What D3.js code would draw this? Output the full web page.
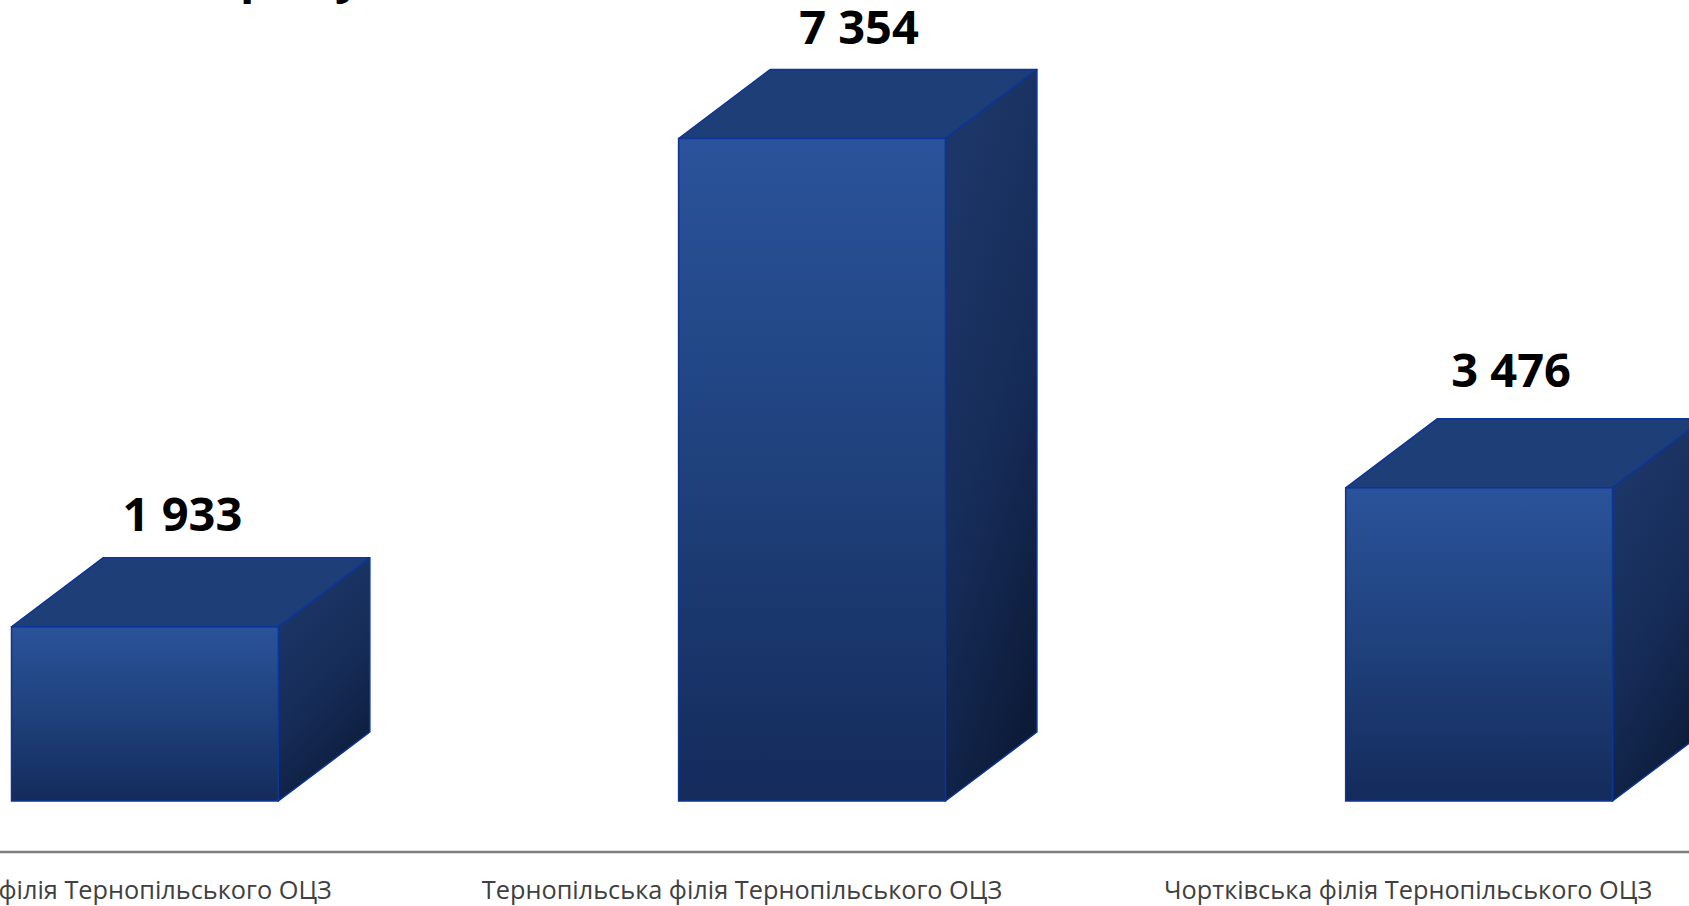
<!DOCTYPE html>
<html><head><meta charset="utf-8">
<script src="https://cdn.jsdelivr.net/npm/d3@7"></script>
<style>html,body{margin:0;padding:0;background:#fff;overflow:hidden}svg{display:block}</style>
</head><body><div id="c"></div>
<script>
const categories = ["Кременецька філія Тернопільського ОЦЗ","Тернопільська філія Тернопільського ОЦЗ","Чортківська філія Тернопільського ОЦЗ"];
const values = [1933, 7354, 3476];
const valueLabels = ["1 933","7 354","3 476"];
const labelShiftX = [37.5, 47, 32];
const labelGapY = [26.5, 26, 32];
const tickShiftX = [-66, -70, -71];
const titleFragments = [{t:"р",x:240},{t:"у",x:335}];

const W=1689,H=906,baseY=801,depthX=91.5,depthY=69,axisY=852;
const svg=d3.select("#c").append("svg").attr("width",W).attr("height",H);
const defs=svg.append("defs");
const grad=(id,x1,y1,x2,y2,stops)=>{const g=defs.append("linearGradient").attr("id",id).attr("x1",x1).attr("y1",y1).attr("x2",x2).attr("y2",y2);
 stops.forEach(s=>g.append("stop").attr("offset",s[0]).attr("stop-color",s[1]));};
grad("front",0,0,0,1,[[0,"#2a539b"],[0.45,"#20437f"],[1,"#142b5b"]]);
grad("side",0.25,0.1,0.6,1,[[0,"#1c3667"],[0.5,"#162c58"],[1,"#0c1b38"]]);

const x=d3.scaleBand().domain(categories).range([11.5,1612.5]).paddingInner(0.6).paddingOuter(0);
const y=d3.scaleLinear().domain([0,7354]).range([baseY,138.5]);
const stroke="#0c3599";

const g=svg.selectAll("g.bar").data(values).join("g").attr("class","bar");
const cat=(i)=>categories[i];
const pts=a=>a.map(p=>p.join(",")).join(" ");
g.append("polygon").attr("points",(d,i)=>{const l=x(cat(i)),r=l+x.bandwidth(),t=y(d);return pts([[l,t],[l+depthX,t-depthY],[r+depthX,t-depthY],[r,t]]);})
 .attr("fill","#1e3e77").attr("stroke",stroke).attr("stroke-width",1.5).attr("stroke-linejoin","round");
g.append("polygon").attr("points",(d,i)=>{const r=x(cat(i))+x.bandwidth(),t=y(d);return pts([[r,t],[r+depthX,t-depthY],[r+depthX,baseY-depthY],[r,baseY]]);})
 .attr("fill","url(#side)").attr("stroke",stroke).attr("stroke-width",1.5).attr("stroke-linejoin","round");
g.append("rect").attr("x",(d,i)=>x(cat(i))).attr("y",d=>y(d)).attr("width",x.bandwidth()).attr("height",d=>baseY-y(d))
 .attr("fill","url(#front)").attr("stroke",stroke).attr("stroke-width",1.5);
g.append("text").attr("x",(d,i)=>x(cat(i))+x.bandwidth()/2+labelShiftX[i]).attr("y",(d,i)=>y(d)-depthY-labelGapY[i])
 .attr("text-anchor","middle").attr("font-family","'Open Sans',sans-serif").attr("font-weight",700).attr("font-size",47).attr("fill","#000")
 .text((d,i)=>valueLabels[i]);

const axis=d3.axisBottom(x).tickSize(0).tickPadding(0);
const ag=svg.append("g").attr("transform",`translate(0,${axisY})`).call(axis);
ag.select(".domain").attr("stroke","#7f7f7f").attr("stroke-width",2.5).attr("d",`M0,0H${W}`);
ag.selectAll("text").attr("font-family","'Open Sans',sans-serif").attr("font-size",25.3).attr("fill","#404040")
 .attr("dx",(d,i)=>tickShiftX[i]).attr("y",47).attr("dy",0);

svg.selectAll("text.frag").data(titleFragments).join("text").attr("class","frag")
 .attr("x",d=>d.x).attr("y",-7).attr("font-family","'Open Sans',sans-serif").attr("font-weight",700).attr("font-size",47).attr("fill","#000").text(d=>d.t);
</script></body></html>
